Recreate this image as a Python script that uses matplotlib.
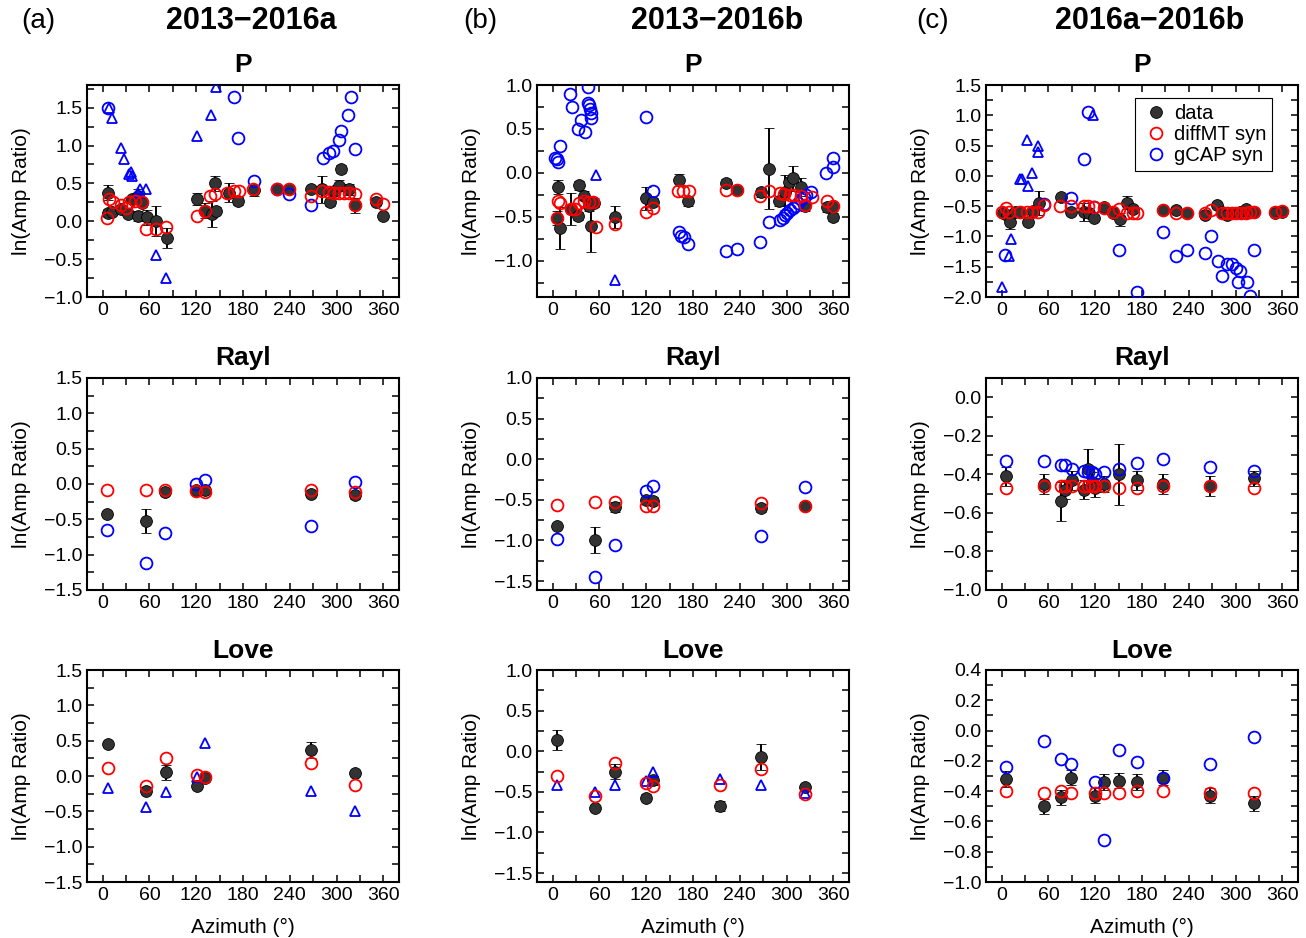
import matplotlib
matplotlib.use('Agg')
import matplotlib.pyplot as plt
from matplotlib.ticker import MultipleLocator
from matplotlib.lines import Line2D

plt.rcParams['font.family'] = ['Liberation Sans', 'DejaVu Sans']

# ---------------- (a) 2013-2016a ----------------
a_p_az = [7, 7, 12, 23, 33, 38, 46, 46, 50, 57, 69, 82, 121, 131, 140, 144, 145, 162, 174, 194,
          223, 239, 267, 281, 291, 297, 303, 306, 316, 324, 351, 360]
a_p_obs = [0.38, 0.11, 0.12, 0.16, 0.10, 0.29, 0.33, 0.07, 0.24, 0.05, 0.00, -0.22, 0.30, 0.14, 0.10, 0.50,
           0.14, 0.38, 0.27, 0.41, 0.43, 0.42, 0.42, 0.42, 0.25, 0.40, 0.47, 0.69, 0.42, 0.21, 0.26, 0.07]
a_p_err = [0.10, 0.05, 0.04, 0.05, 0.05, 0.05, 0.09, 0.06, 0.05, 0.10, 0.20, 0.13, 0.08, 0.10, 0.17, 0.10,
           0.05, 0.12, 0.05, 0.07, 0.05, 0.04, 0.04, 0.18, 0.05, 0.05, 0.07, 0.05, 0.07, 0.10, 0.05, 0.04]
a_p_dmt_az = [6, 8, 13, 24, 30, 34, 41, 50, 56, 68, 81, 121, 131, 138, 144, 160, 168, 175, 193, 223,
              239, 267, 281, 290, 297, 303, 309, 316, 324, 324, 351, 360]
a_p_dmt = [0.04, 0.30, 0.25, 0.21, 0.17, 0.26, 0.27, 0.26, -0.10, -0.10, -0.08, 0.07, 0.13, 0.34, 0.36,
           0.38, 0.40, 0.40, 0.42, 0.43, 0.42, 0.33, 0.40, 0.39, 0.38, 0.37, 0.37, 0.37, 0.36, 0.21, 0.29, 0.23]
a_p_gcap_az = [7, 169, 174, 194, 223, 239, 267, 283, 290, 295, 303, 306, 314, 318, 324]
a_p_gcap = [1.49, 1.64, 1.10, 0.53, 0.43, 0.36, 0.21, 0.84, 0.90, 0.93, 1.07, 1.19, 1.40, 1.64, 0.96]
a_p_tri_az = [8, 12, 24, 27, 34, 36, 38, 46, 48, 56, 69, 81, 121, 139, 145]
a_p_tri = [1.50, 1.37, 0.97, 0.82, 0.62, 0.65, 0.60, 0.38, 0.42, 0.43, -0.44, -0.75, 1.13, 1.40, 1.78]

a_r_az = [6, 55, 80, 120, 131, 267, 323]
a_r_obs = [-0.42, -0.53, -0.11, -0.08, -0.08, -0.14, -0.16]
a_r_err = [0.04, 0.17, 0.04, 0.04, 0.04, 0.05, 0.05]
a_r_dmt = [-0.08, -0.08, -0.08, -0.10, -0.11, -0.08, -0.11]
a_r_gcap = [-0.65, -1.12, -0.70, 0.00, 0.06, -0.59, 0.03]

a_l_az = [7, 55, 81, 121, 131, 267, 324]
a_l_obs = [0.45, -0.21, 0.05, -0.14, -0.03, 0.37, 0.04]
a_l_err = [0.04, 0.05, 0.11, 0.04, 0.05, 0.11, 0.04]
a_l_dmt = [0.11, -0.14, 0.26, 0.01, -0.02, 0.18, -0.13]
a_l_tri = [-0.17, -0.44, -0.23, -0.01, 0.46, -0.21, -0.50]

# ---------------- (b) 2013-2016b ----------------
b_p_az = [5, 7, 10, 23, 32, 34, 40, 47, 49, 53, 80, 120, 129, 162, 174, 222, 237, 267, 277, 290,
          298, 303, 308, 318, 324, 352, 359, 360]
b_p_obs = [-0.51, -0.16, -0.63, -0.41, -0.49, -0.14, -0.26, -0.38, -0.60, -0.34, -0.50, -0.29, -0.33,
           -0.08, -0.32, -0.11, -0.19, -0.22, 0.05, -0.32, -0.22, -0.10, -0.06, -0.16, -0.38, -0.39, -0.38, -0.50]
b_p_err = [0.08, 0.08, 0.24, 0.18, 0.05, 0.05, 0.05, 0.05, 0.30, 0.05, 0.13, 0.13, 0.05, 0.07, 0.05,
           0.04, 0.04, 0.05, 0.46, 0.05, 0.20, 0.05, 0.14, 0.10, 0.05, 0.05, 0.05, 0.05]
b_p_dmt_az = [5, 7, 10, 23, 29, 34, 40, 47, 52, 55, 80, 120, 129, 161, 167, 175, 222, 237, 266, 277,
              291, 297, 304, 310, 318, 324, 332, 352, 360]
b_p_dmt = [-0.51, -0.32, -0.34, -0.41, -0.41, -0.34, -0.32, -0.33, -0.33, -0.61, -0.58, -0.44, -0.40,
           -0.21, -0.21, -0.21, -0.19, -0.19, -0.26, -0.21, -0.23, -0.24, -0.25, -0.25, -0.26, -0.36,
           -0.27, -0.32, -0.38]
b_p_gcap_az = [3, 5, 7, 10, 22, 25, 33, 37, 42, 45, 45, 47, 48, 49, 49, 120, 129, 162, 164, 168, 174,
               222, 237, 266, 277, 291, 295, 298, 301, 304, 308, 311, 314, 318, 322, 325, 331, 351, 359, 360]
b_p_gcap = [0.17, 0.16, 0.12, 0.31, 0.90, 0.75, 0.50, 0.60, 0.47, 0.98, 0.80, 0.77, 0.73, 0.68, 0.63,
            0.64, -0.20, -0.67, -0.72, -0.73, -0.81, -0.89, -0.87, -0.79, -0.56, -0.53, -0.51, -0.48,
            -0.45, -0.42, -0.40, -0.37, -0.34, -0.30, -0.27, -0.25, -0.22, 0.00, 0.07, 0.17]
b_p_tri_az = [55, 80]
b_p_tri = [-0.02, -1.22]

b_r_az = [5, 54, 80, 120, 129, 267, 323]
b_r_obs = [-0.82, -0.99, -0.59, -0.50, -0.51, -0.60, -0.58]
b_r_err = [0.04, 0.16, 0.06, 0.04, 0.04, 0.05, 0.05]
b_r_dmt = [-0.56, -0.53, -0.53, -0.58, -0.58, -0.54, -0.58]
b_r_gcap = [-0.98, -1.45, -1.06, -0.39, -0.33, -0.95, -0.34]

b_l_az = [5, 54, 80, 120, 129, 214, 267, 323]
b_l_obs = [0.14, -0.70, -0.25, -0.57, -0.36, -0.67, -0.07, -0.44]
b_l_err = [0.12, 0.04, 0.09, 0.04, 0.05, 0.06, 0.16, 0.04]
b_l_dmt = [-0.30, -0.55, -0.14, -0.39, -0.43, -0.41, -0.22, -0.53]
b_l_tri = [-0.41, -0.50, -0.42, -0.37, -0.25, -0.34, -0.42, -0.52]

# ---------------- (c) 2016a-2016b ----------------
c_p_az = [2, 7, 11, 17, 24, 34, 40, 48, 76, 89, 105, 112, 118, 131, 143, 152, 161, 169, 207, 223,
          238, 261, 276, 283, 289, 295, 300, 306, 313, 318, 324, 351, 360]
c_p_obs = [-0.61, -0.64, -0.76, -0.60, -0.60, -0.76, -0.58, -0.45, -0.35, -0.59, -0.59, -0.62, -0.70,
           -0.51, -0.61, -0.72, -0.44, -0.55, -0.57, -0.57, -0.61, -0.64, -0.48, -0.60, -0.65, -0.62,
           -0.62, -0.60, -0.55, -0.60, -0.60, -0.62, -0.59]
c_p_err = [0.05, 0.05, 0.12, 0.05, 0.05, 0.05, 0.05, 0.20, 0.05, 0.05, 0.15, 0.05, 0.05, 0.05, 0.05,
           0.10, 0.10, 0.05, 0.04, 0.04, 0.04, 0.05, 0.05, 0.05, 0.05, 0.05, 0.05, 0.05, 0.05, 0.10,
           0.05, 0.04, 0.04]
c_p_dmt_az = [0, 6, 10, 24, 32, 39, 47, 54, 75, 89, 105, 111, 118, 131, 143, 151, 161, 168, 174, 207,
              223, 238, 261, 268, 283, 289, 295, 301, 307, 313, 318, 324, 351, 360]
c_p_dmt = [-0.60, -0.53, -0.60, -0.59, -0.59, -0.59, -0.59, -0.48, -0.49, -0.49, -0.50, -0.50, -0.51,
           -0.53, -0.59, -0.54, -0.61, -0.61, -0.61, -0.57, -0.61, -0.61, -0.61, -0.56, -0.61, -0.61,
           -0.61, -0.61, -0.61, -0.61, -0.60, -0.60, -0.60, -0.58]
c_p_gcap_az = [4, 54, 89, 106, 111, 118, 151, 174, 207, 223, 238, 261, 268, 277, 283, 289, 295, 300,
               303, 306, 315, 318, 324]
c_p_gcap = [-1.30, -0.46, -0.36, 0.28, 1.06, -0.51, -1.22, -1.91, -0.92, -1.32, -1.23, -1.28, -1.00,
            -1.40, -1.65, -1.46, -1.46, -1.52, -1.76, -1.57, -1.76, -1.98, -1.22]
c_p_tri_az = [1, 9, 12, 24, 26, 33, 34, 39, 47, 47, 117]
c_p_tri = [-1.84, -1.33, -1.04, -0.05, -0.05, 0.59, -0.17, 0.05, 0.49, 0.39, 1.00]

c_r_az = [6, 54, 76, 81, 90, 106, 111, 116, 120, 131, 151, 173, 207, 267, 324]
c_r_obs = [-0.41, -0.45, -0.54, -0.48, -0.43, -0.48, -0.37, -0.44, -0.47, -0.45, -0.40, -0.43, -0.45,
           -0.46, -0.42]
c_r_err = [0.05, 0.05, 0.10, 0.05, 0.05, 0.05, 0.10, 0.05, 0.05, 0.04, 0.16, 0.05, 0.05, 0.05, 0.04]
c_r_dmt = [-0.47, -0.46, -0.46, -0.46, -0.46, -0.46, -0.46, -0.46, -0.46, -0.46, -0.47, -0.47, -0.46,
           -0.46, -0.47]
c_r_gcap = [-0.33, -0.33, -0.35, -0.35, -0.37, -0.38, -0.39, -0.39, -0.40, -0.39, -0.37, -0.34, -0.32,
            -0.36, -0.38]

c_l_az = [6, 54, 76, 89, 120, 131, 151, 173, 207, 267, 324]
c_l_obs = [-0.32, -0.50, -0.44, -0.31, -0.43, -0.34, -0.33, -0.34, -0.31, -0.43, -0.48]
c_l_err = [0.05, 0.05, 0.05, 0.05, 0.05, 0.05, 0.05, 0.05, 0.05, 0.05, 0.05]
c_l_dmt = [-0.40, -0.41, -0.40, -0.41, -0.41, -0.41, -0.41, -0.40, -0.40, -0.41, -0.41]
c_l_gcap = [-0.24, -0.07, -0.19, -0.22, -0.34, -0.72, -0.13, -0.21, -0.31, -0.22, -0.04]

col_titles = ['2013\u22122016a', '2013\u22122016b', '2016a\u22122016b']
col_tags = ['(a)', '(b)', '(c)']
row_titles = ['P', 'Rayl', 'Love']

# panel table: (obs az, obs, err, dmt az, dmt, gcap-circle az, gcap, gcap-triangle az, tri, ylim, major, minor)
panels = [
    [(a_p_az, a_p_obs, a_p_err, a_p_dmt_az, a_p_dmt, a_p_gcap_az, a_p_gcap, a_p_tri_az, a_p_tri, (-1.0, 1.8), 0.5, 0.25),
     (a_r_az, a_r_obs, a_r_err, a_r_az, a_r_dmt, a_r_az, a_r_gcap, [], [], (-1.5, 1.5), 0.5, 0.25),
     (a_l_az, a_l_obs, a_l_err, a_l_az, a_l_dmt, [], [], a_l_az, a_l_tri, (-1.5, 1.5), 0.5, 0.25)],
    [(b_p_az, b_p_obs, b_p_err, b_p_dmt_az, b_p_dmt, b_p_gcap_az, b_p_gcap, b_p_tri_az, b_p_tri, (-1.41, 1.0), 0.5, 0.25),
     (b_r_az, b_r_obs, b_r_err, b_r_az, b_r_dmt, b_r_az, b_r_gcap, [], [], (-1.61, 1.0), 0.5, 0.25),
     (b_l_az, b_l_obs, b_l_err, b_l_az, b_l_dmt, [], [], b_l_az, b_l_tri, (-1.61, 1.0), 0.5, 0.25)],
    [(c_p_az, c_p_obs, c_p_err, c_p_dmt_az, c_p_dmt, c_p_gcap_az, c_p_gcap, c_p_tri_az, c_p_tri, (-2.0, 1.5), 0.5, 0.25),
     (c_r_az, c_r_obs, c_r_err, c_r_az, c_r_dmt, c_r_az, c_r_gcap, [], [], (-1.0, 0.1), 0.2, 0.1),
     (c_l_az, c_l_obs, c_l_err, c_l_az, c_l_dmt, c_l_az, c_l_gcap, [], [], (-1.0, 0.4), 0.2, 0.1)],
]

W, H = 1306, 938
fig = plt.figure(figsize=(W / 100, H / 100), dpi=100)

col_left = [87, 537, 986]
row_top = [85, 378, 670]
ax_w, ax_h = 312, 212
title_x = [251, 717, 1150]
tag_x = [38, 480, 933]

for c in range(3):
    fig.text(title_x[c] / W, 1 - 21 / H, col_titles[c], ha='center', va='center',
             fontsize=22, fontweight='bold')
    fig.text(tag_x[c] / W, 1 - 21 / H, col_tags[c], ha='center', va='center', fontsize=20)
    for r in range(3):
        az, obs, err, daz, dmt, gaz, gcap, taz, tri, ylim, major, minor = panels[c][r]
        ax = fig.add_axes([col_left[c] / W, 1 - (row_top[r] + ax_h) / H, ax_w / W, ax_h / H])

        ax.errorbar(az, obs, yerr=err, fmt='o', color='#333333', mec='black', mew=0.6,
                    ms=8.5, ecolor='black', elinewidth=1.4, capsize=3.5, capthick=1.4, zorder=3)
        if len(gaz):
            ax.plot(gaz, gcap, 'o', mfc='none', mec='blue', mew=1.3, ms=8.5, zorder=4)
        if len(taz):
            ax.plot(taz, tri, '^', mfc='none', mec='blue', mew=1.3, ms=7, zorder=4)
        ax.plot(daz, dmt, 'o', mfc='none', mec='red', mew=1.3, ms=8.5, zorder=5)

        ax.set_xlim(-20, 380)
        ax.set_ylim(*ylim)
        ax.xaxis.set_major_locator(MultipleLocator(60))
        ax.xaxis.set_minor_locator(MultipleLocator(30))
        ax.yaxis.set_major_locator(MultipleLocator(major))
        ax.yaxis.set_minor_locator(MultipleLocator(minor))
        ax.tick_params(which='both', direction='in', top=True, right=True,
                       length=5, width=1.1, labelsize=14)
        for s in ax.spines.values():
            s.set_linewidth(1.5)

        ax.set_title(row_titles[r], fontsize=19, fontweight='bold', pad=9)
        ax.set_ylabel('ln(Amp Ratio)', fontsize=15)
        ax.yaxis.set_label_coords(-0.18, 0.5)
        if r == 2:
            ax.set_xlabel('Azimuth (\u00b0)', fontsize=15, labelpad=10)

        if c == 2 and r == 0:
            handles = [
                Line2D([], [], ls='none', marker='o', color='#333333', mec='black', mew=0.6, ms=8.5),
                Line2D([], [], ls='none', marker='o', mfc='none', mec='red', mew=1.3, ms=8.5),
                Line2D([], [], ls='none', marker='o', mfc='none', mec='blue', mew=1.3, ms=8.5),
            ]
            leg = ax.legend(handles, ['data', 'diffMT syn', 'gCAP syn'], loc='upper right',
                            bbox_to_anchor=(0.917, 0.94), borderaxespad=0, fontsize=14.5,
                            fancybox=False, edgecolor='black', framealpha=1,
                            handletextpad=0.2, labelspacing=0.1, borderpad=0.3, handlelength=1.4)
            leg.get_frame().set_linewidth(0.8)

fig.savefig('out.png', dpi=100)
